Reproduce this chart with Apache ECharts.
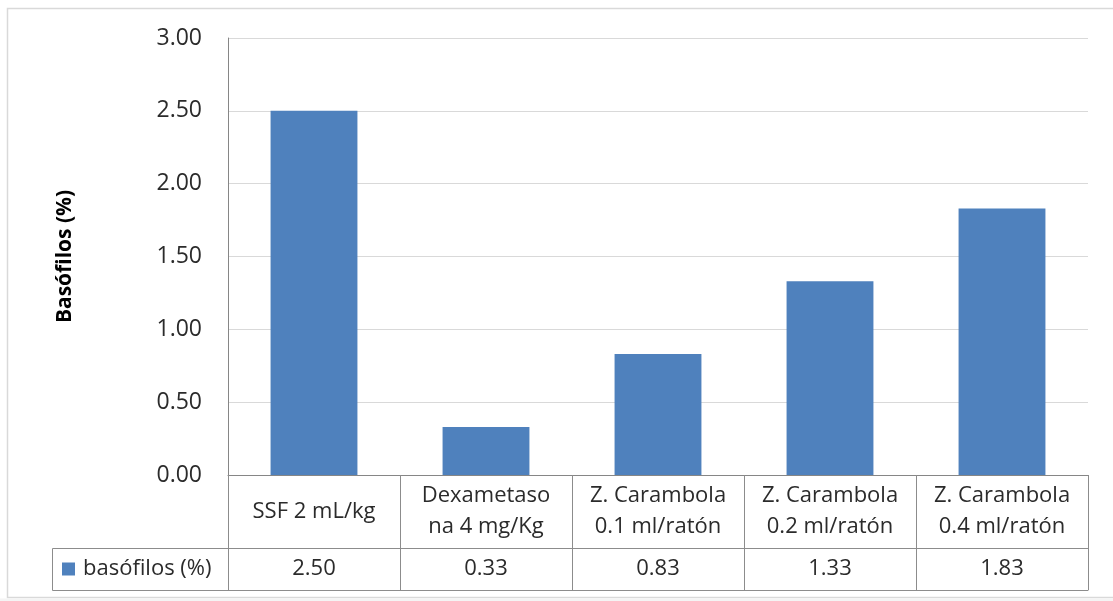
<!DOCTYPE html>
<html>
<head>
<meta charset="utf-8">
<title>Basófilos (%)</title>
<script src="https://cdn.jsdelivr.net/npm/echarts@6/dist/echarts.min.js"></script>
<style>
  html, body { margin: 0; padding: 0; background: #ffffff; }
  #chart { width: 1113px; height: 601px; }
</style>
</head>
<body>
<div id="chart"></div>
<script>
// Treatment groups (two-line labels as shown in the data table)
const categories = [
  'SSF 2 mL/kg',
  'Dexametaso\nna 4 mg/Kg',
  'Z. Carambola\n0.1 ml/ratón',
  'Z. Carambola\n0.2 ml/ratón',
  'Z. Carambola\n0.4 ml/ratón'
];
// Basophil percentage per group
const basofilos = [2.50, 0.33, 0.83, 1.33, 1.83];
const seriesName = 'basófilos (%)';
const yTicks = { min: 0, max: 3, interval: 0.5 };

// Layout (pixels)
const W = 1113, H = 601;
const gridLeft = 228, gridRight = 1088, gridTop = 38, gridBottom = 475;
const row1 = 73;   // category row height
const row2 = 42;   // value row height
const legendCellLeft = 52;
const font = '"Open Sans", "Liberation Sans", sans-serif';
const textColor = '#2b2b2b';
const tableLine = '#8c8c8c';
const fs = 22;

const chart = echarts.init(document.getElementById('chart'), null, { renderer: 'canvas' });

const valueLabels = basofilos.map(v => v.toFixed(2));

chart.setOption({
  animation: false,
  backgroundColor: '#ffffff',
  textStyle: { fontFamily: font },
  grid: {
    left: gridLeft,
    right: W - gridRight,
    top: gridTop,
    bottom: H - gridBottom,
    containLabel: false
  },
  legend: {
    data: [seriesName],
    left: legendCellLeft + 5,
    top: gridBottom + row1 + 4,
    icon: 'rect',
    itemWidth: 13,
    itemHeight: 13,
    padding: 5,
    selectedMode: false,
    textStyle: { fontFamily: font, fontSize: fs, color: textColor, lineHeight: 24, padding: [0, 0, 0, 3] }
  },
  xAxis: [
    {
      type: 'category',
      data: categories,
      position: 'bottom',
      axisLine: { show: true, lineStyle: { color: '#868686', width: 1 } },
      axisTick: { show: true, length: row1 + row2, interval: 0, alignWithLabel: false, lineStyle: { color: tableLine, width: 1 } },
      axisLabel: {
        interval: 0, margin: row1 / 2, verticalAlign: 'middle',
        fontFamily: font, fontSize: fs, lineHeight: 31, color: textColor, align: 'center'
      },
      splitLine: { show: false }
    },
    {
      type: 'category',
      data: valueLabels,
      position: 'bottom',
      offset: row1,
      axisLine: { show: true, lineStyle: { color: tableLine, width: 1 } },
      axisTick: { show: false },
      axisLabel: {
        interval: 0, margin: row2 / 2, verticalAlign: 'middle',
        fontFamily: font, fontSize: fs, color: textColor
      },
      splitLine: { show: false }
    },
    {
      type: 'category',
      data: valueLabels,
      position: 'bottom',
      offset: row1 + row2,
      axisLine: { show: true, lineStyle: { color: tableLine, width: 1 } },
      axisTick: { show: false },
      axisLabel: { show: false },
      splitLine: { show: false }
    }
  ],
  yAxis: {
    type: 'value',
    min: yTicks.min,
    max: yTicks.max,
    interval: yTicks.interval,
    name: 'Basófilos (%)',
    nameLocation: 'middle',
    nameGap: 152,
    nameRotate: 90,
    nameTextStyle: { fontFamily: font, fontSize: 21, fontWeight: 'bold', color: '#000000' },
    axisLine: { show: true, lineStyle: { color: '#868686', width: 1 } },
    axisTick: { show: false },
    axisLabel: {
      margin: 26, fontFamily: font, fontSize: 23, color: textColor,
      formatter: v => v.toFixed(2)
    },
    splitLine: { show: true, lineStyle: { color: '#d9d9d9', width: 1 } }
  },
  series: [
    {
      name: seriesName,
      type: 'bar',
      xAxisIndex: 0,
      data: basofilos,
      barWidth: '50.5%',
      itemStyle: { color: '#4f81bd' }
    }
  ],
  graphic: [
    // chart area frame
    {
      type: 'rect',
      silent: true,
      z: -10,
      shape: { x: 7.5, y: 8.5, width: W + 10, height: 589 },
      style: { fill: 'none', stroke: '#d9d9d9', lineWidth: 1.5 }
    },
    {
      type: 'rect',
      silent: true,
      z: -10,
      shape: { x: 0, y: 598.5, width: W, height: 3 },
      style: { fill: '#f4f4f4' }
    },
    // legend cell of the data table
    {
      type: 'polyline',
      silent: true,
      shape: {
        points: [
          [gridLeft, gridBottom + row1 + 0.5],
          [legendCellLeft + 0.5, gridBottom + row1 + 0.5],
          [legendCellLeft + 0.5, gridBottom + row1 + row2 + 0.5],
          [gridLeft, gridBottom + row1 + row2 + 0.5]
        ]
      },
      style: { fill: 'none', stroke: tableLine, lineWidth: 1 }
    }
  ]
});
</script>
</body>
</html>
